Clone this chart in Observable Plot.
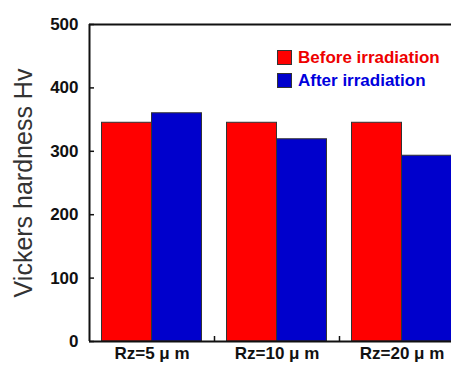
<!DOCTYPE html>
<html>
<head>
<meta charset="utf-8">
<script src="https://cdn.jsdelivr.net/npm/d3@7"></script>
<script src="https://cdn.jsdelivr.net/npm/@observablehq/plot@0.6"></script>
<style>
  html, body { margin: 0; padding: 0; background: #fff; overflow: hidden; }
  #wrap { position: relative; width: 451px; height: 365px; font-family: "Liberation Sans", Arial, sans-serif; }
  #legend { position: absolute; left: 277px; top: 46px; font-weight: bold; font-size: 17px; line-height: 23px; }
  #legend .row { display: flex; align-items: center; height: 23px; }
  #legend .sw { width: 13px; height: 13px; border: 1px solid #333; margin-right: 6px; }
</style>
</head>
<body>
<div id="wrap"><div id="legend"></div></div>
<script>
const groups = ["Rz=5 \u03bc m", "Rz=10 \u03bc m", "Rz=20 \u03bc m"];
const seriesNames = ["Before irradiation", "After irradiation"];
const seriesColors = ["#ff0000", "#0000cc"];
const beforeValues = [345, 345, 345];
const afterValues = [360, 319, 293];
const yTicks = [0, 100, 200, 300, 400, 500];
const groupTicks = [0, 1, 2];
const boundaryTicks = [0.5, 1.5];
const yTitle = "Vickers hardness Hv";

const data = [];
groups.forEach((g, i) => {
  data.push({group: g, idx: i, series: seriesNames[0], value: beforeValues[i], x1: i - 0.4, x2: i});
  data.push({group: g, idx: i, series: seriesNames[1], value: afterValues[i], x1: i, x2: i + 0.4});
});

const chart = Plot.plot({
  width: 451,
  height: 365,
  marginLeft: 89,
  marginRight: 0,
  marginTop: 24,
  marginBottom: 24,
  style: {fontFamily: "Liberation Sans, Arial, sans-serif", background: "#fff", color: "#111"},
  x: {type: "linear", domain: [-0.5, 2.5], range: [89, 464]},
  y: {domain: [0, 500]},
  color: {domain: seriesNames, range: seriesColors},
  marks: [
    Plot.rectY(data, {x1: "x1", x2: "x2", y: "value", fill: "series", stroke: "#333", strokeWidth: 1}),
    Plot.ruleY([0], {stroke: "#111", strokeWidth: 2}),
    Plot.ruleY([500], {stroke: "#111", strokeWidth: 2}),
    Plot.ruleX([-0.5], {stroke: "#111", strokeWidth: 2}),
    Plot.axisY({ticks: yTicks, tickSize: -5, tickPadding: 16, strokeWidth: 1.5, fontSize: 17, fontWeight: "bold", label: null}),
    Plot.axisX({ticks: groupTicks, tickSize: 0, tickPadding: 5, tickFormat: i => groups[i], fontSize: 17, fontWeight: "bold", label: null}),
    Plot.axisX({ticks: boundaryTicks, tickSize: -5, strokeWidth: 1.5, tickFormat: () => "", label: null}),
    Plot.text([yTitle], {frameAnchor: "left", textAnchor: "middle", rotate: -90, dx: -66, fontSize: 25, fill: "#333"})
  ]
});
document.getElementById("wrap").prepend(chart);

const legend = document.getElementById("legend");
seriesNames.forEach((name, i) => {
  const row = document.createElement("div");
  row.className = "row";
  const sw = document.createElement("div");
  sw.className = "sw";
  sw.style.background = seriesColors[i];
  const t = document.createElement("span");
  t.textContent = name;
  t.style.color = i === 0 ? "#ee0000" : "#0000dd";
  row.append(sw, t);
  legend.append(row);
});
</script>
</body>
</html>
